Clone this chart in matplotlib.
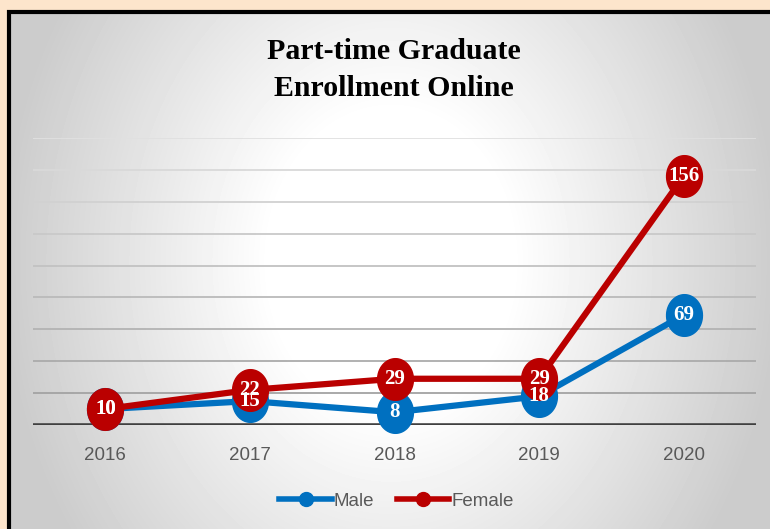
import numpy as np
import matplotlib
matplotlib.use("Agg")
import matplotlib.pyplot as plt
from matplotlib.path import Path
from matplotlib.patches import Rectangle
from matplotlib.lines import Line2D

# Data
years = ["2016", "2017", "2018", "2019", "2020"]
male = [10, 15, 8, 18, 69]
female = [10, 22, 29, 29, 156]
y_ticks = list(range(0, 181, 20))

blue = "#0070C0"
red = "#BA0000"


def ellipse_marker(squeeze=0.86):
    """ Slightly narrow ellipse, like the stretched markers in the reference """
    t = np.linspace(0, 2 * np.pi, 60)
    verts = np.column_stack([squeeze * np.cos(t), np.sin(t)])
    return Path(verts, closed=True)


def main():
    fig = plt.figure(figsize=(7.7, 5.29), dpi=100, facecolor="#FDE5CC")

    # Radial gradient background inside the black frame
    bg = fig.add_axes([11 / 770, 0, 1 - 11 / 770, 1 - 13 / 529], zorder=0)
    h, w = 516, 759
    yy, xx = np.mgrid[0:h, 0:w]
    dx = (xx - w * 0.5) / (w * 0.5)
    dy = (yy - h * 0.48) / (h * 0.5)
    r = np.sqrt(dx ** 2 + (0.55 * dy) ** 2)
    shade = 1.0 - 0.2 * np.clip((r - 0.32) / 0.7, 0, 1)
    bg.imshow(shade, cmap="gray", vmin=0, vmax=1, aspect="auto", interpolation="bilinear")
    bg.set_axis_off()

    # Black frame
    fig.patches.append(Rectangle((9 / 770, -0.05), 1.2, 1 - 12 / 529 + 0.05,
                                 transform=fig.transFigure, fill=False,
                                 edgecolor="black", linewidth=3, zorder=1))

    ax = fig.add_axes([33 / 770, 104 / 529, 723 / 770, 287 / 529], zorder=2)
    ax.patch.set_alpha(0)
    x = np.arange(len(years))

    # Gridlines, slightly darker toward the bottom
    for i, t in enumerate(y_ticks[1:]):
        frac = i / (len(y_ticks) - 2)
        g = 0.64 + 0.24 * frac
        ax.axhline(t, color=(g, g, g), linewidth=1.3, zorder=1)
    ax.axhline(0, color="#404040", linewidth=3.3, zorder=2)

    mk = ellipse_marker()
    ax.plot(x, male, color=blue, linewidth=4.5, marker=mk, markersize=30,
            solid_capstyle="round", zorder=3, clip_on=False)
    ax.plot(x, female, color=red, linewidth=4.5, marker=mk, markersize=30,
            solid_capstyle="round", zorder=4, clip_on=False)

    for series in (female, male):
        for xi, v in zip(x, series):
            ax.text(xi, v, str(v), ha="center", va="center", color="white",
                    fontsize=15, fontweight="bold", family="Liberation Serif", zorder=6)

    ax.set_xlim(-0.5, len(years) - 0.5)
    ax.set_ylim(0, 180)
    ax.set_yticks([])
    ax.set_xticks(x)
    ax.set_xticklabels(years, color="#595959", fontsize=13.5, family="Liberation Sans")
    ax.tick_params(axis="x", length=0, pad=16)
    for s in ax.spines.values():
        s.set_visible(False)

    fig.text(0.512, 0.868, "Part-time Graduate\nEnrollment Online", ha="center", va="center",
             fontsize=21.5, fontweight="bold", family="Liberation Serif", linespacing=1.45)

    handles = [Line2D([], [], color=blue, linewidth=4, marker="o", markersize=10),
               Line2D([], [], color=red, linewidth=4, marker="o", markersize=10)]
    fig.legend(handles, ["Male", "Female"], loc="center", bbox_to_anchor=(0.515, 0.052),
               ncol=2, frameon=False, handlelength=2.8, handletextpad=0.1, columnspacing=1.2,
               prop={"family": "Liberation Sans", "size": 13.5}, labelcolor="#595959")

    fig.savefig("out.png", dpi=100, facecolor=fig.get_facecolor())


if __name__ == '__main__':
    main()
